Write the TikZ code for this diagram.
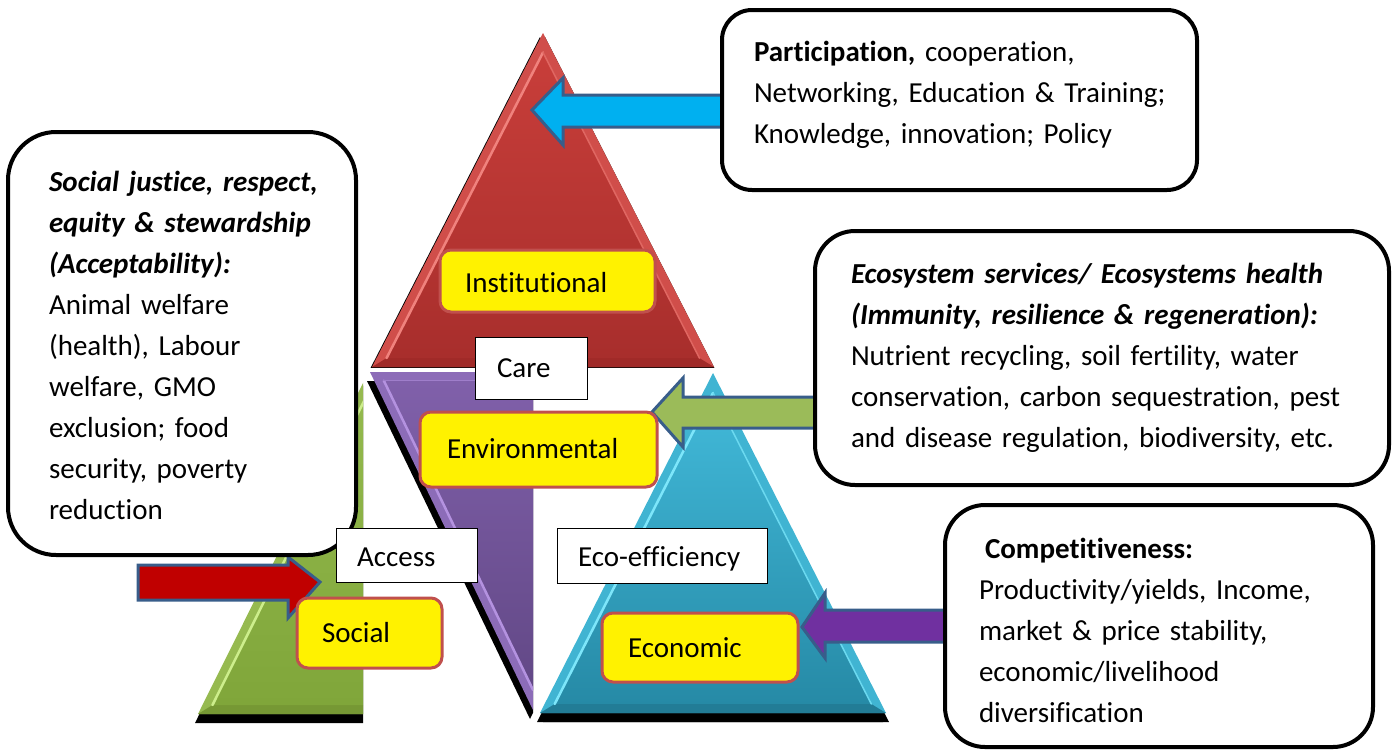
\documentclass[tikz,border=0pt]{standalone}
\usepackage{fontspec}
\setmainfont{Carlito}[Ligatures=NoCommon]
\usetikzlibrary{calc}
\definecolor{cyanA}{RGB}{0,176,240}
\definecolor{greenA}{RGB}{155,187,89}
\definecolor{purpleA}{RGB}{112,48,160}
\definecolor{redA}{RGB}{192,0,0}
\definecolor{arrowblue}{RGB}{56,93,138}
\definecolor{labred}{RGB}{192,80,77}
% red triangle
\definecolor{redO}{RGB}{208,78,74}
\definecolor{redT}{RGB}{200,62,58}
\definecolor{redB}{RGB}{168,46,44}
\definecolor{redD}{RGB}{160,42,40}
\definecolor{redH}{RGB}{240,130,125}
% purple
\definecolor{purO}{RGB}{140,108,184}
\definecolor{purT}{RGB}{128,96,170}
\definecolor{purB}{RGB}{98,72,134}
\definecolor{purH}{RGB}{180,146,224}
% green
\definecolor{grnO}{RGB}{150,186,80}
\definecolor{grnT}{RGB}{148,186,78}
\definecolor{grnB}{RGB}{128,166,58}
\definecolor{grnD}{RGB}{118,152,52}
\definecolor{grnH}{RGB}{205,238,140}
% blue
\definecolor{bluO}{RGB}{64,180,210}
\definecolor{bluT}{RGB}{66,186,218}
\definecolor{bluB}{RGB}{38,138,166}
\definecolor{bluD}{RGB}{34,124,150}
\definecolor{bluH}{RGB}{125,230,250}
\begin{document}
\begin{tikzpicture}[x=1pt,y=-1pt,
  every node/.style={inner sep=0pt, outer sep=0pt},
  bigbox/.style={rectangle, draw=black, line width=4pt, fill=white, rounded corners=#1},
  bodytext/.style={font=\fontsize{29}{41}\selectfont, align=left, anchor=base west, text width=#1},
  yellowlab/.style={rectangle, draw=labred, line width=3pt, fill=yellow, rounded corners=11pt},
  whitelab/.style={rectangle, draw=black, line width=1pt, fill=white},
  labtext/.style={font=\fontsize{29}{35}\selectfont, anchor=base west},
  blockarrow/.style={draw=arrowblue, line width=3pt, line join=miter},
  highlight/.style={draw=#1, line width=2.5pt, line cap=round}
]
\useasboundingbox (0,0) rectangle (1392,750);

% ---------- triangle corner coordinates
\coordinate (gA) at (368,373); \coordinate (gB) at (198,714); \coordinate (gC) at (538,714); \coordinate (gI) at (368,608.8);
\coordinate (bA) at (713,373); \coordinate (bB) at (540,713); \coordinate (bC) at (886,713); \coordinate (bI) at (713,606.9);
\coordinate (pA) at (370,372); \coordinate (pB) at (696,372); \coordinate (pC) at (533,710); \coordinate (pI) at (533,474.3);
\coordinate (rA) at (543,33);  \coordinate (rB) at (372,367); \coordinate (rC) at (714,367); \coordinate (rI) at (543,262.4);
\foreach \t in {g,b,p,r}{
  \coordinate (\t Ai) at ($(\t I)!0.915!(\t A)$);
  \coordinate (\t Bi) at ($(\t I)!0.915!(\t B)$);
  \coordinate (\t Ci) at ($(\t I)!0.915!(\t C)$);
  \coordinate (\t As) at ($(\t A)+(-3,9)$);
  \coordinate (\t Bs) at ($(\t B)+(-3,9)$);
  \coordinate (\t Cs) at ($(\t C)+(-3,9)$);
  \coordinate (\t Ar) at ($(\t A)+(3,9)$);
  \coordinate (\t Br) at ($(\t B)+(3,9)$);
  \coordinate (\t Cr) at ($(\t C)+(3,9)$);
}

% ---------- green triangle (Social), right part hidden
\begin{scope}
  \clip (0,0) rectangle (363,750);
  \fill[black] (gAs) -- (gBs) -- (gCs) -- cycle;
  \fill[grnO] (gA) -- (gB) -- (gC) -- cycle;
  \fill[grnD] (gB) -- (gC) -- (gCi) -- (gBi) -- cycle;
  \shade[top color=grnT, bottom color=grnB] (gAi) -- (gBi) -- (gCi) -- cycle;
  \draw[highlight=grnH] (gAi) -- (gBi);
\end{scope}

% ---------- blue triangle (Economic)
\fill[black] (bAs) -- (bBs) -- (bCs) -- cycle;
\fill[black] (bAr) -- (bBr) -- (bCr) -- cycle;
\fill[bluO] (bA) -- (bB) -- (bC) -- cycle;
\fill[bluD] (bB) -- (bC) -- (bCi) -- (bBi) -- cycle;
\shade[top color=bluT, bottom color=bluB] (bAi) -- (bBi) -- (bCi) -- cycle;
\draw[highlight=bluH] (bAi) -- (bBi);
\draw[highlight=bluH!70!bluT, line width=1.5pt] (bAi) -- (bCi);

% ---------- purple inverted triangle (Environmental), right part hidden
\begin{scope}
  \clip (0,0) rectangle (533,750);
  \fill[black] (pAs) -- (pBs) -- (pCs) -- cycle;
  \fill[purO] (pA) -- (pB) -- (pC) -- cycle;
  \shade[top color=purT, bottom color=purB] (pAi) -- (pBi) -- (pCi) -- cycle;
  \draw[highlight=purH] (pAi) -- (pCi);
  \draw[highlight=purH!60!purT, line width=1.5pt] (pAi) -- (pBi);
\end{scope}

% ---------- red triangle (Institutional)
\begin{scope}
  \clip (0,0) rectangle (1392,367);
  \fill[black] ($(rA)+(-3,4)$) -- ($(rB)+(-3,4)$) -- ($(rC)+(-3,4)$) -- cycle;
  \fill[black] ($(rA)+(2,4)$) -- ($(rB)+(2,4)$) -- ($(rC)+(2,4)$) -- cycle;
\end{scope}
\fill[redO] (rA) -- (rB) -- (rC) -- cycle;
\fill[redD] (rB) -- (rC) -- (rCi) -- (rBi) -- cycle;
\shade[top color=redT, bottom color=redB] (rAi) -- (rBi) -- (rCi) -- cycle;
\draw[highlight=redH] (rAi) -- (rBi);
\draw[highlight=redH!60!redT, line width=1.5pt] (rAi) -- (rCi);

% ---------- block arrows
\draw[blockarrow, fill=cyanA] (724,95) -- (563,95) -- (563,78) -- (532,110) -- (563,145) -- (563,127) -- (724,127);
\draw[blockarrow, fill=greenA] (820,397) -- (683,397) -- (683,378) -- (652,412) -- (683,447) -- (683,428) -- (820,428);
\draw[blockarrow, fill=purpleA] (947,610) -- (825,610) -- (825,593) -- (802,627) -- (825,658) -- (825,642) -- (947,642);
\draw[blockarrow, fill=redA] (138,565) -- (288,565) -- (288,557) -- (320,582) -- (288,618) -- (288,600) -- (138,600) -- cycle;

% ---------- big text boxes
\node[bigbox=30pt, minimum width=475pt, minimum height=180pt] (part) at (959.5,100) {};
\node[bodytext=440pt] (parttext) at (754,61)
  {\textbf{Participation,} cooperation,\\
   Networking, Education \& Training;\\
   Knowledge, innovation; Policy};

\node[bigbox=48pt, minimum width=348pt, minimum height=423pt] (soc) at (182,343.5) {};
\node[bodytext=300pt] (soctext) at (49,191)
  {\textbf{\textit{Social justice, respect,}}\\
   \textbf{\textit{equity \& stewardship}}\\
   \textbf{\textit{(Acceptability):}}\\
   Animal welfare\\
   (health), Labour\\
   welfare, GMO\\
   exclusion; food\\
   security, poverty\\
   reduction};

\node[bigbox=40pt, minimum width=574pt, minimum height=254pt] (eco) at (1102,358) {};
\node[bodytext=530pt] (ecotext) at (851,283)
  {\textbf{\textit{Ecosystem services/ Ecosystems health}}\\
   \textbf{\textit{(Immunity, resilience \& regeneration):}}\\
   Nutrient recycling, soil fertility, water\\
   conservation, carbon sequestration, pest\\
   and disease regulation, biodiversity, etc.};

\node[bigbox=40pt, minimum width=428pt, minimum height=242pt] (comp) at (1159,626) {};
\node[bodytext=390pt] (comptext) at (979,558)
  {\hspace*{6pt}\textbf{Competitiveness:}\\
   Productivity/yields, Income,\\
   market \& price stability,\\
   economic/livelihood\\
   diversification};

% ---------- labels
\node[yellowlab, minimum width=215pt, minimum height=62pt] (inst) at (547.5,281) {};
\node[labtext] (insttext) at (465,292) {Institutional};

\node[whitelab, minimum width=112pt, minimum height=62pt] (care) at (531,368) {};
\node[labtext] (caretext) at (497,377) {Care};

\node[yellowlab, minimum width=237pt, minimum height=75pt] (env) at (538.5,449.5) {};
\node[labtext] (envtext) at (447,458) {Environmental};

\node[whitelab, minimum width=141pt, minimum height=54pt] (access) at (406.5,555) {};
\node[labtext] (accesstext) at (357,566) {Access};

\node[whitelab, minimum width=210pt, minimum height=55pt] (ecoeff) at (662,555.5) {};
\node[labtext] (ecoefftext) at (578,566) {Eco-efficiency};

\node[yellowlab, minimum width=145pt, minimum height=70pt] (social) at (369.5,633) {};
\node[labtext] (socialtext) at (322,642) {Social};

\node[yellowlab, minimum width=196pt, minimum height=69pt] (econ) at (700,647.5) {};
\node[labtext] (econtext) at (628,657) {Economic};
\end{tikzpicture}
\end{document}
